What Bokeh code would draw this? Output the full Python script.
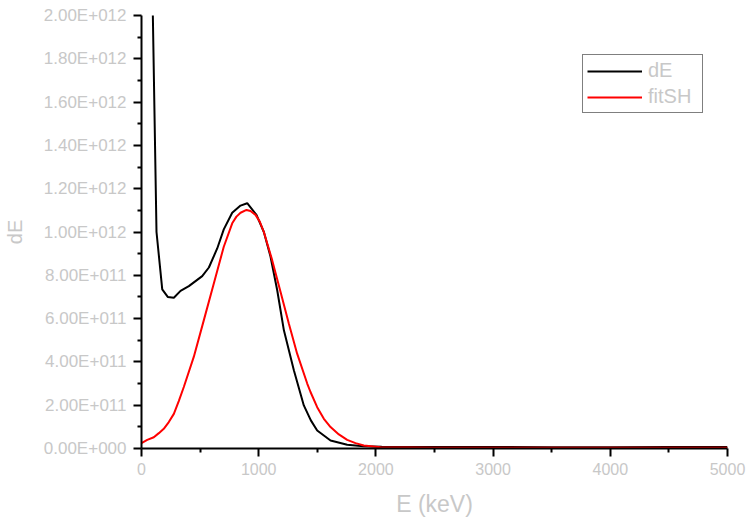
from bokeh.plotting import figure
from bokeh.models import Range1d, FixedTicker, Legend, LegendItem, ColumnDataSource
from bokeh.embed import file_html
from bokeh.resources import INLINE

# ---- data ----
dE_E = [75, 128, 177, 224, 276, 333, 404, 518, 575, 646, 702, 774, 845, 902,
        981, 1044, 1101, 1158, 1215, 1300, 1385, 1445, 1499, 1613, 1755, 1894,
        2050, 2500, 3000, 3500, 4000, 4500, 5000]
dE_v = [2.70e12, 1.00e12, 0.735e12, 0.700e12, 0.696e12, 0.728e12, 0.750e12,
        0.796e12, 0.836e12, 0.924e12, 1.012e12, 1.089e12, 1.122e12, 1.133e12,
        1.079e12, 1.000e12, 0.886e12, 0.731e12, 0.546e12, 0.361e12, 0.199e12,
        0.130e12, 0.083e12, 0.037e12, 0.017e12, 0.010e12,
        0.008e12, 0.007e12, 0.007e12, 0.006e12, 0.006e12, 0.007e12, 0.007e12]

fit_E = [0, 49, 105, 148, 190, 233, 276, 318, 361, 446, 532, 617, 702, 774,
         810, 845, 896, 930, 973, 1009, 1044, 1115, 1186, 1257, 1328, 1414,
         1442, 1499, 1556, 1613, 1684, 1755, 1826, 1897, 2039, 2500,
         3000, 3500, 4000, 4500, 5000]
fit_v = [0.025e12, 0.040e12, 0.052e12, 0.071e12, 0.091e12, 0.122e12, 0.160e12,
         0.219e12, 0.284e12, 0.423e12, 0.593e12, 0.762e12, 0.932e12, 1.040e12,
         1.071e12, 1.089e12, 1.102e12, 1.097e12, 1.079e12, 1.048e12, 1.000e12,
         0.870e12, 0.724e12, 0.577e12, 0.438e12, 0.300e12, 0.261e12, 0.191e12,
         0.137e12, 0.099e12, 0.065e12, 0.040e12, 0.025e12, 0.014e12, 0.006e12,
         0.003e12, 0.003e12, 0.003e12, 0.003e12, 0.003e12, 0.003e12]

x_ticks = [0, 1000, 2000, 3000, 4000, 5000]
x_minor = [500, 1500, 2500, 3500, 4500]
y_ticks = [0, 200000000000, 400000000000, 600000000000, 800000000000,
           1000000000000, 1200000000000, 1400000000000, 1600000000000,
           1800000000000, 2000000000000]
y_labels = ["0.00E+000", "2.00E+011", "4.00E+011", "6.00E+011", "8.00E+011",
            "1.00E+012", "1.20E+012", "1.40E+012", "1.60E+012", "1.80E+012",
            "2.00E+012"]
series_names = ["dE", "fitSH"]

GREY = "#c8c8c8"
FONT = "Liberation Sans"

p = figure(width=746, height=522, output_backend="svg", toolbar_location=None,
           x_range=Range1d(0, 5000), y_range=Range1d(0, 2e12),
           min_border_left=141, min_border_right=19, min_border_top=15,
           min_border_bottom=74)
p.outline_line_color = None
p.xgrid.visible = False
p.ygrid.visible = False
p.background_fill_color = "white"
p.border_fill_color = "white"

src_dE = ColumnDataSource(dict(x=dE_E, y=dE_v))
src_fit = ColumnDataSource(dict(x=fit_E, y=fit_v))
r1 = p.line("x", "y", source=src_dE, line_color="black", line_width=2)
r2 = p.line("x", "y", source=src_fit, line_color="#ff0000", line_width=2)

# axes
xa = p.xaxis[0]
xa.ticker = FixedTicker(ticks=x_ticks, minor_ticks=x_minor)
xa.axis_label = "E (keV)"
ya = p.yaxis[0]
ya.ticker = FixedTicker(ticks=y_ticks,
                        minor_ticks=[v + 100000000000 for v in y_ticks[:-1]])
ya.major_label_overrides = {t: l for t, l in zip(y_ticks, y_labels)}
ya.axis_label = "dE"

for ax in (xa, ya):
    ax.axis_line_color = "black"
    ax.axis_line_width = 2
    ax.major_tick_line_color = "black"
    ax.major_tick_line_width = 2
    ax.minor_tick_line_color = "black"
    ax.minor_tick_line_width = 2
    ax.major_tick_in = 0
    ax.minor_tick_in = 0
    ax.major_tick_out = 8
    ax.minor_tick_out = 4
    ax.major_label_text_color = GREY
    ax.major_label_text_font = FONT
    ax.axis_label_text_color = GREY
    ax.axis_label_text_font = FONT
    ax.axis_label_text_font_style = "normal"

xa.major_label_text_font_size = "16px"
xa.major_label_standoff = 6
xa.axis_label_text_font_size = "23px"
xa.axis_label_standoff = 13
ya.major_label_text_font_size = "17px"
ya.major_label_standoff = 7
ya.axis_label_text_font_size = "20px"
ya.axis_label_standoff = 15

legend = Legend(items=[LegendItem(label=series_names[0], renderers=[r1]),
                       LegendItem(label=series_names[1], renderers=[r2])],
                location=(441, 335))
legend.border_line_color = "black"
legend.border_line_width = 1
legend.background_fill_color = "white"
legend.background_fill_alpha = 1
legend.label_text_color = GREY
legend.label_text_font = FONT
legend.label_text_font_size = "20px"
legend.glyph_width = 55
legend.label_standoff = 6
legend.label_width = 50
legend.padding = 4
legend.spacing = 3
legend.margin = 0
p.add_layout(legend, "center")

open("out.html", "w").write(file_html(p, INLINE))
